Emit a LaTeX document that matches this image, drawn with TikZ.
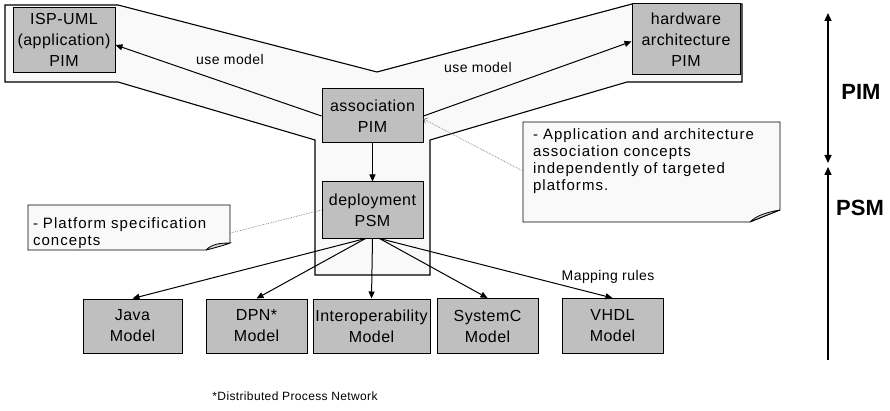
\documentclass[tikz,border=0pt]{standalone}
\usepackage{fontspec}
\setmainfont{Liberation Sans}
\newfontfamily\boxfont{Liberation Sans}[LetterSpace=3]
\newfontfamily\scanfont{Liberation Sans}[LetterSpace=7]
\usetikzlibrary{arrows.meta}

\tikzset{
  model/.style={draw, line width=1pt, fill=gray!50, align=center, inner sep=0pt,
    font=\boxfont\fontsize{16}{21}\selectfont},
  notetext/.style={align=left, inner xsep=#1, inner ysep=0pt,
    font=\scanfont\fontsize{15}{17}\selectfont},
  flow/.style={line width=1pt, -{Triangle[length=7pt,width=6pt]}},
  tag/.style={font=\boxfont\fontsize{14}{16}\selectfont},
  hint/.style={gray, densely dotted, line width=0.7pt},
  axis/.style={line width=1.5pt},
  level/.style={font=\bfseries\fontsize{22}{24}\selectfont},
}

\begin{document}
\begin{tikzpicture}[x=1pt,y=1pt]
  \useasboundingbox (0,0) rectangle (890,410);

  % outline round the PIM models and the deployment column
  \draw[line width=1.1pt, fill=gray!5] (5,405) -- (118,405) -- (377,338) -- (632,406)
    -- (742,406) -- (742,328) -- (627,328) -- (430,270) -- (430,135) -- (315,135)
    -- (315,270) -- (118,328) -- (5,328) -- cycle;

  % notes
  \draw[line width=0.8pt, fill=gray!5] (28,205) -- (230,205) -- (230,167) -- (206,160) -- (28,160) -- cycle;
  \draw[line width=0.8pt, fill=gray!35] (206,160) .. controls (212,166) and (220,167) .. (230,167)
    .. controls (222,164) and (214,162) .. (206,160);
  \draw[line width=0.8pt, fill=gray!5] (523,288) -- (780,288) -- (780,200) -- (750,188) -- (523,188) -- cycle;
  \draw[line width=0.8pt, fill=gray!35] (750,188) .. controls (757,195) and (768,198) .. (780,200)
    .. controls (770,196) and (759,192) .. (750,188);

  \node[notetext=5pt, text width=192pt] (pnote) at (129,177) {- Platform specification\\concepts};
  \node[notetext=10pt, text width=237pt] (rnote) at (651.5,249)
    {- Application and architecture\\association concepts\\independently of targeted\\platforms.};

  % models
  \node[model, minimum width=102, minimum height=65] (isp) at (64,370) {ISP-UML\\(application)\\PIM};
  \node[model, minimum width=108, minimum height=71] (hw) at (686,370.5) {hardware\\architecture\\PIM};
  \node[model, minimum width=101, minimum height=54] (assoc) at (372.5,294) {association\\PIM};
  \node[model, minimum width=101, minimum height=56] (deploy) at (372.5,200) {deployment\\PSM};

  \node[model, minimum width=99, minimum height=54] (java) at (132.5,84) {Java\\Model};
  \node[model, minimum width=101, minimum height=54] (dpn) at (256.5,84) {DPN*\\Model};
  \node[model, minimum width=117, minimum height=54] (interop) at (371.5,84) {Interoperability\\Model};
  \node[model, minimum width=101, minimum height=55] (sysc) at (487.5,84) {SystemC\\Model};
  \node[model, minimum width=101, minimum height=55] (vhdl) at (612.5,84) {VHDL\\Model};

  % connectors
  \draw[flow] (assoc) -- (deploy);
  \draw[flow] (assoc.west) -- ([yshift=-5pt]isp.east);
  \draw[flow] (assoc.east) -- ([yshift=-2pt]hw.west);
  \draw[flow] ([xshift=-7pt]deploy.south) -- (java.north);
  \draw[flow] ([xshift=-7pt]deploy.south) -- (dpn.north);
  \draw[flow] (deploy.south) -- (interop.north);
  \draw[flow] ([xshift=7pt]deploy.south) -- (sysc.north);
  \draw[flow] ([xshift=7pt]deploy.south) -- (vhdl.north);

  \draw[hint] (pnote.east) -- (deploy.west);
  \draw[hint, -{Straight Barb[length=3pt]}] ([yshift=-10pt]rnote.west) -- ([yshift=-3pt]assoc.east);

  \node[tag] (usel) at (230,351) {use model};
  \node[tag] (user) at (478,343) {use model};
  \node[tag] (maprules) at (608,133) {Mapping rules};

  % abstraction levels
  \coordinate (pimtop) at (828,397);
  \coordinate (pimlow) at (828,247);
  \coordinate (psmtop) at (828,243);
  \coordinate (psmbot) at (828,50);
  \draw[axis, {Triangle[length=8pt,width=7pt]}-{Triangle[length=8pt,width=7pt]}] (pimlow) -- (pimtop);
  \draw[axis, -{Triangle[length=8pt,width=7pt]}] (psmbot) -- (psmtop);
  \node[level] (pim) at (861,318) {PIM};
  \node[level] (psm) at (860,202) {PSM};

  \node[font=\boxfont\fontsize{12}{14}\selectfont] (fn) at (295,14) {*Distributed Process Network};
\end{tikzpicture}
\end{document}
